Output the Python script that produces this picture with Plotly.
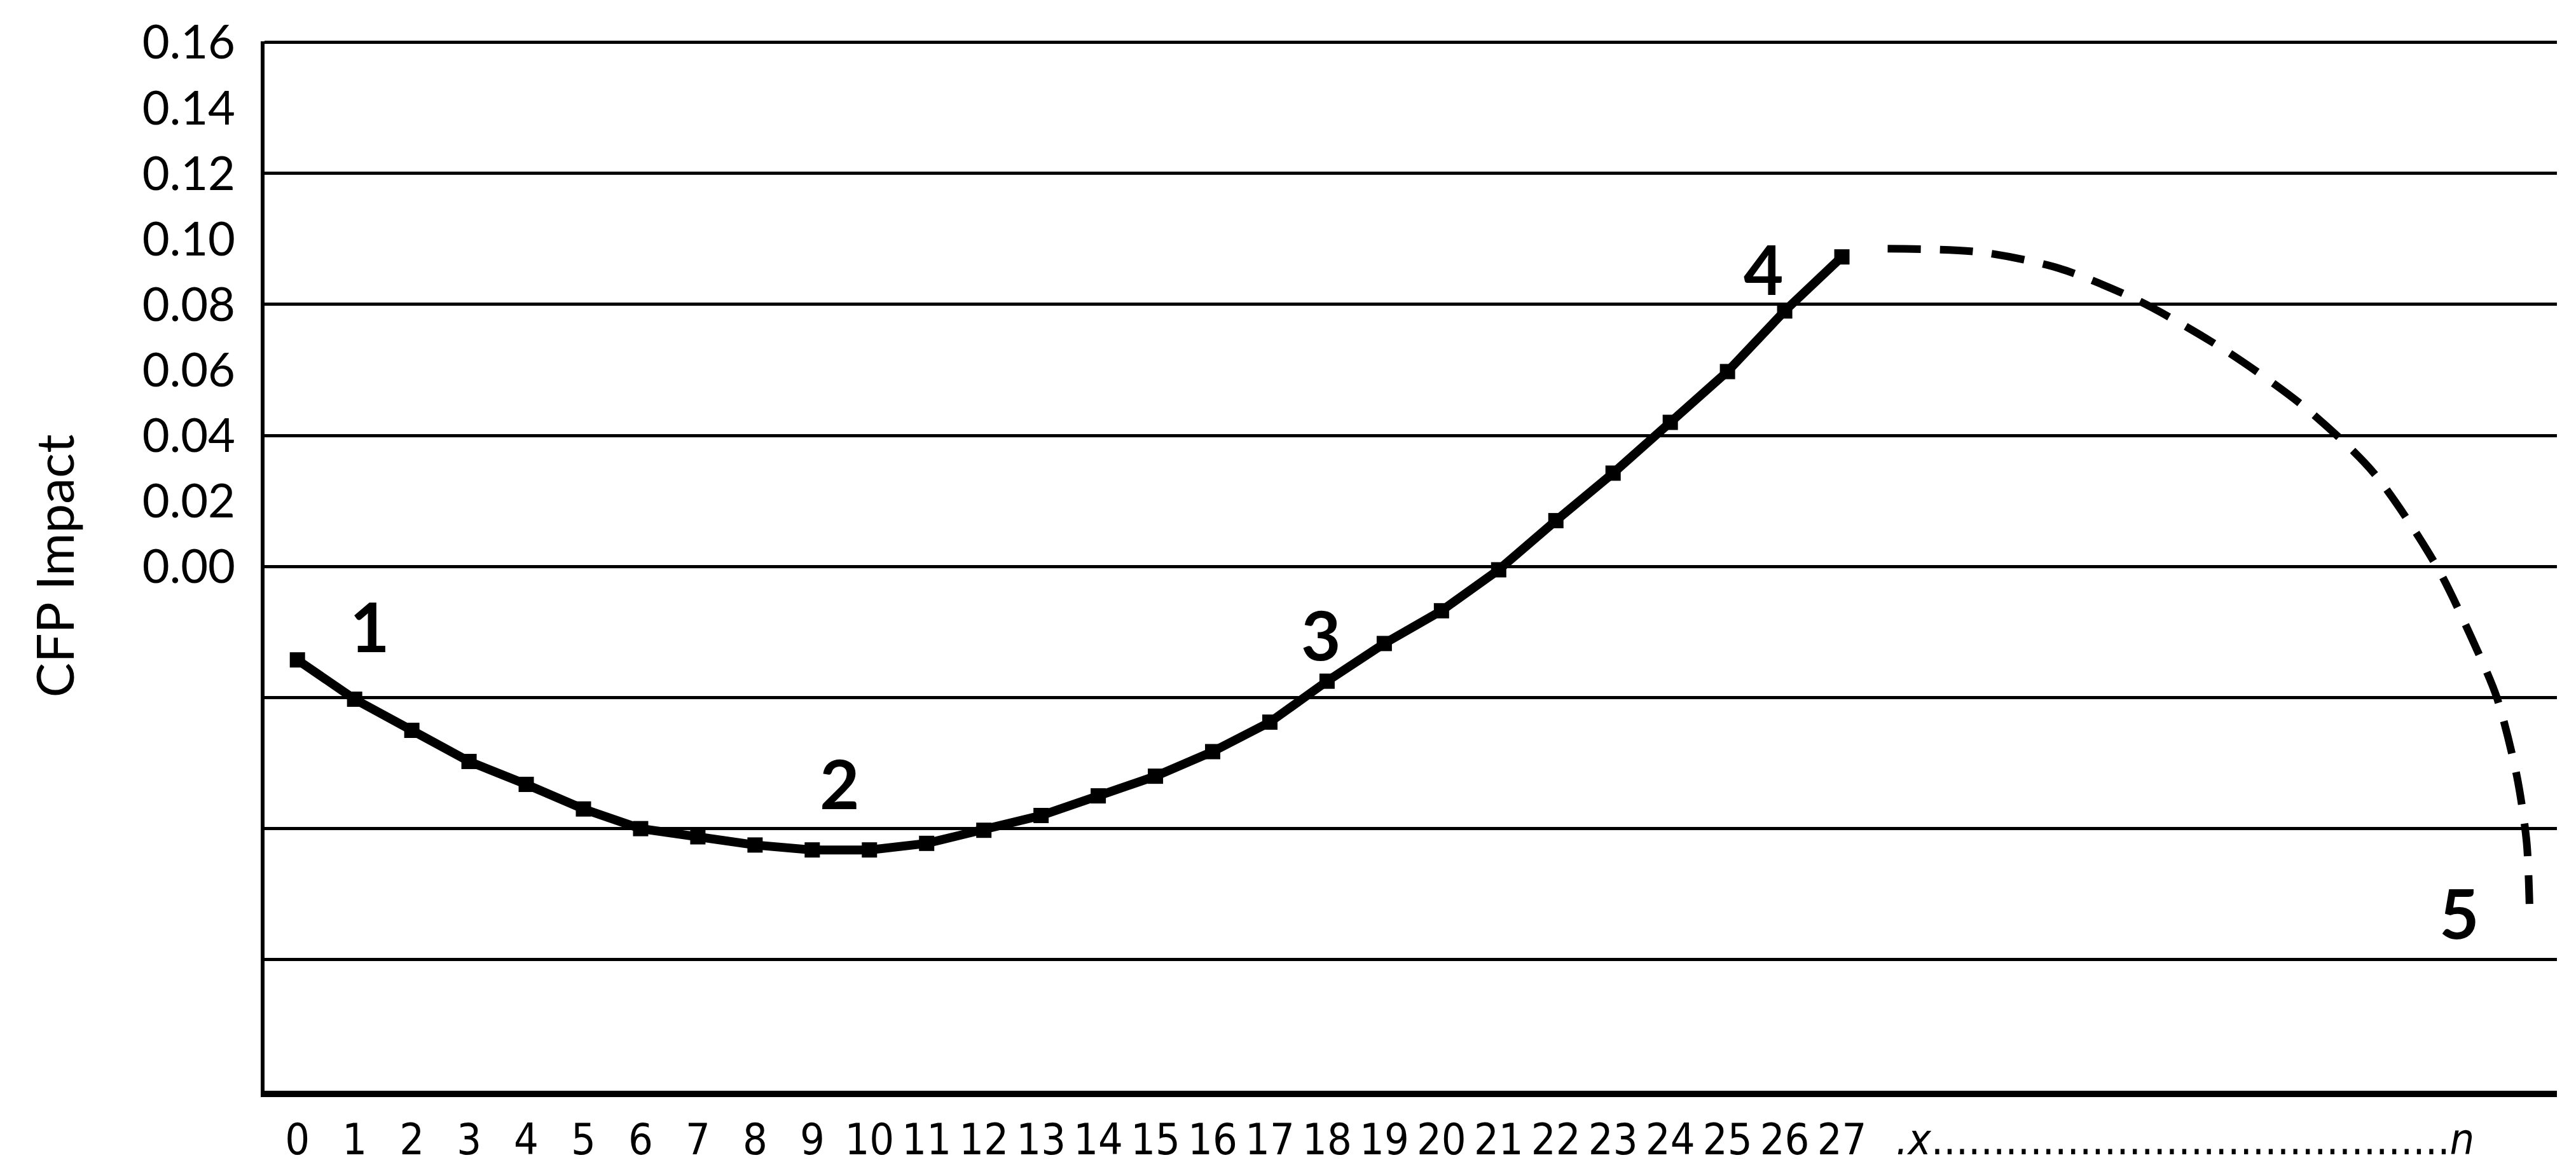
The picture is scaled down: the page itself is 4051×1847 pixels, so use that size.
import plotly.graph_objects as go

# observed period 0..27, CFP impact per period
periods = list(range(28))
cfp_impact = [
    -0.0285, -0.0405, -0.050, -0.0595, -0.0665, -0.074, -0.080, -0.0825,
    -0.085, -0.0865, -0.0865, -0.0845, -0.0805, -0.076, -0.070, -0.064,
    -0.0565, -0.0475, -0.035, -0.0235, -0.0135, -0.001, 0.014, 0.0285,
    0.044, 0.0595, 0.078, 0.0945,
]

# projected decline x..n (dashed)
proj_x = [27.8, 29.4, 30.8, 32.2, 33.7, 35.1, 36.3, 37.4, 38.0, 38.45, 38.8, 38.97, 39.02]
proj_y = [0.097, 0.096, 0.091, 0.081, 0.066, 0.0485, 0.0285, 0.0, -0.0215, -0.04, -0.064, -0.084, -0.103]

y_ticks = [0.00, 0.02, 0.04, 0.06, 0.08, 0.10, 0.12, 0.14, 0.16]
grid_ticks = [-0.12, -0.08, -0.04, 0.00, 0.04, 0.08, 0.12, 0.16]

stage_labels = ["1", "2", "3", "4", "5"]
stage_x = [1.26, 9.48, 17.9, 25.63, 37.79]
stage_y = [-0.018, -0.066, -0.0205, 0.091, -0.1055]

tail_label = "<i>.x</i>" + "." * 42 + "<i>n</i>"
x_tickvals = periods + [33.0]
x_ticktext = [str(p) for p in periods] + [tail_label]

MAIN_FONT = "Lato, Open Sans, sans-serif"
NARROW_FONT = "Liberation Sans Narrow, DejaVu Sans Condensed, Roboto Condensed, Roboto, sans-serif"
Y_RANGE = [-0.16, 0.1603]

fig = go.Figure()
fig.add_trace(go.Scatter(
    x=periods, y=cfp_impact, mode="lines+markers",
    line=dict(color="black", width=14),
    marker=dict(symbol="square", size=24, color="black"),
    showlegend=False,
))
fig.add_trace(go.Scatter(
    x=proj_x, y=proj_y, mode="lines", yaxis="y2",
    line=dict(color="black", width=12, dash="52px,30px", shape="spline", smoothing=0.8),
    showlegend=False,
))

for text, xv, yv in zip(stage_labels, stage_x, stage_y):
    fig.add_annotation(
        x=xv, y=yv, text=f"<b>{text}</b>", showarrow=False,
        font=dict(family=MAIN_FONT, size=108, color="black"),
    )

fig.update_layout(
    width=4051, height=1847,
    margin=dict(l=408, r=38, t=57, b=139),
    paper_bgcolor="white", plot_bgcolor="white",
    xaxis=dict(
        range=[-0.575, 39.5], tickvals=x_tickvals, ticktext=x_ticktext,
        tickangle=0, automargin=False,
        showgrid=False, zeroline=False, showline=True, linecolor="black", linewidth=10,
        ticks="", ticklabelstandoff=8,
        tickfont=dict(family=NARROW_FONT, size=68, color="black"),
    ),
    yaxis=dict(
        range=Y_RANGE, tickvals=grid_ticks, showticklabels=False, automargin=False,
        showgrid=True, gridcolor="black", gridwidth=5, zeroline=False,
        showline=True, linecolor="black", linewidth=6, ticks="",
    ),
    yaxis2=dict(
        range=Y_RANGE, overlaying="y", side="left", tickvals=y_ticks, automargin=False,
        tickformat=".2f", showgrid=False, zeroline=False, showline=False,
        ticks="", ticklabelstandoff=45,
        tickfont=dict(family=MAIN_FONT, size=74, color="black"),
        title=dict(text="CFP Impact", standoff=80,
                   font=dict(family=MAIN_FONT, size=82, color="black")),
    ),
)

fig.write_html("out.html")
